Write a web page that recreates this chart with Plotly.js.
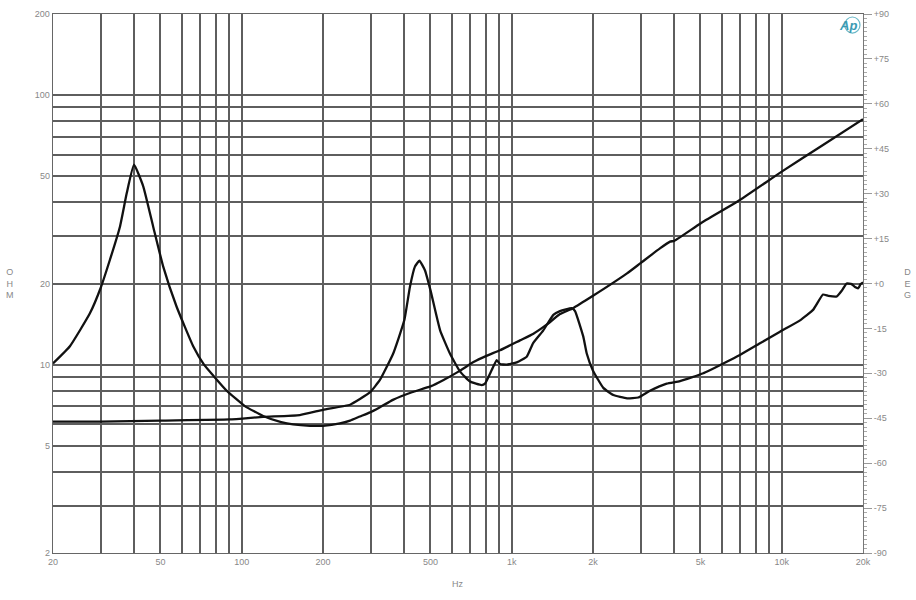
<!DOCTYPE html>
<html>
<head>
<meta charset="utf-8">
<script src="https://cdn.plot.ly/plotly-3.0.1.min.js"></script>
<style>html,body{margin:0;padding:0;background:#fff;}#chart{width:916px;height:600px;}</style>
</head>
<body>
<div id="chart"></div>
<script>
// Curve A: low-frequency resonance then steadily rising impedance (ohm)
const freqA = [20, 23.1, 27.4, 30, 32.5, 35.4, 37.5, 39.9, 43.2, 47, 51.2, 57.4, 66.1, 72.5, 78.5, 88, 103, 120, 140, 155, 179, 200, 231, 252, 274, 299, 325, 363, 427, 500, 557, 644, 719, 810, 905, 1073, 1199, 1351, 1509, 1687, 2000, 2673, 3000, 3540, 3858, 4000, 5000, 7000, 10000, 14220, 20000];
const ohmA  = [10.1, 11.7, 15.5, 19.2, 24.5, 32.5, 43.2, 55.2, 45.8, 32.5, 23.1, 16.4, 11.7, 10.0, 9.1, 8.0, 7.0, 6.45, 6.12, 6.0, 5.93, 5.93, 6.05, 6.2, 6.42, 6.65, 6.95, 7.4, 7.9, 8.3, 8.75, 9.5, 10.2, 10.8, 11.3, 12.3, 13.0, 14.1, 15.4, 16.2, 18.0, 21.8, 23.8, 27.0, 28.6, 28.8, 33.4, 40.8, 52.0, 65.3, 81.4];

// Curve B: flat start, resonance near 460 Hz, bumps, then rising to 20 ohm (ohm)
const freqB = [20, 30, 50, 90, 120, 164, 200, 252, 274, 299, 325, 364, 400, 420, 438, 455, 477, 500, 543, 591, 644, 701, 774, 796, 843, 880, 905, 958, 1044, 1136, 1199, 1309, 1426, 1509, 1668, 1716, 1841, 1896, 2000, 2184, 2378, 2673, 2944, 3252, 3750, 4200, 5124, 6076, 7000, 8310, 9854, 11690, 13090, 14220, 14880, 15980, 16680, 17400, 18160, 18680, 19210, 19600, 20000];
const ohmB  = [6.14, 6.14, 6.2, 6.26, 6.4, 6.5, 6.8, 7.1, 7.45, 7.9, 8.77, 11.0, 14.6, 19.5, 23.1, 24.3, 22.4, 18.9, 13.4, 10.97, 9.42, 8.65, 8.4, 8.5, 9.55, 10.4, 10.05, 10.0, 10.2, 10.7, 12.0, 13.4, 15.3, 15.8, 16.2, 15.8, 12.7, 11.0, 9.5, 8.2, 7.71, 7.5, 7.55, 8.0, 8.5, 8.68, 9.29, 10.1, 10.86, 12.0, 13.25, 14.6, 16.0, 18.2, 18.0, 17.9, 18.8, 20.0, 19.9, 19.4, 19.2, 19.9, 20.2];

// Axis ticks / grid
const xGrid = [20,30,40,50,60,70,80,90,100,200,300,400,500,600,700,800,900,1000,2000,3000,4000,5000,6000,7000,8000,9000,10000,20000];
const xLabels = {20:'20',50:'50',100:'100',200:'200',500:'500',1000:'1k',2000:'2k',5000:'5k',10000:'10k',20000:'20k'};
const yGrid = [2,3,4,5,6,7,8,9,10,20,30,40,50,60,70,80,90,100,200];
const yLabels = {2:'2',5:'5',10:'10',20:'20',50:'50',100:'100',200:'200'};
const degTicks = [-90,-75,-60,-45,-30,-15,0,15,30,45,60,75,90];
const degLabels = ['-90','-75','-60','-45','-30','-15','+0','+15','+30','+45','+60','+75','+90'];

const tickFont = {family: 'Liberation Sans, Arial, sans-serif', size: 9, color: '#888'};
const gridColor = '#5e5e5e';

const traces = [
  {x: freqA, y: ohmA, type: 'scatter', mode: 'lines', line: {color: '#111', width: 2.3, shape: 'spline', smoothing: 0.4}, hoverinfo: 'skip', showlegend: false},
  {x: freqB, y: ohmB, type: 'scatter', mode: 'lines', line: {color: '#111', width: 2.3, shape: 'spline', smoothing: 0.4}, hoverinfo: 'skip', showlegend: false},
  {x: freqA, y: freqA.map(() => null), yaxis: 'y2', type: 'scatter', mode: 'lines', hoverinfo: 'skip', showlegend: false}
];

const layout = {
  width: 916, height: 600,
  margin: {l: 53, r: 53, t: 14, b: 47},
  paper_bgcolor: '#fff', plot_bgcolor: '#fff',
  showlegend: false,
  xaxis: {
    type: 'log', range: [Math.log10(20), Math.log10(20000)],
    tickmode: 'array', tickvals: xGrid, ticktext: xGrid.map(v => xLabels[v] || ''),
    tickfont: tickFont, ticks: '', showgrid: true, gridcolor: gridColor, gridwidth: 2,
    showline: true, linecolor: '#666', linewidth: 1.3, mirror: true, zeroline: false,
    fixedrange: true
  },
  yaxis: {
    type: 'log', range: [Math.log10(2), Math.log10(200)],
    tickmode: 'array', tickvals: yGrid, ticktext: yGrid.map(v => yLabels[v] || ''),
    tickfont: tickFont, ticks: '', showgrid: true, gridcolor: gridColor, gridwidth: 2,
    showline: true, linecolor: '#666', linewidth: 1.3, mirror: true, zeroline: false,
    fixedrange: true
  },
  yaxis2: {
    overlaying: 'y', side: 'right', range: [-90, 90],
    tickmode: 'array', tickvals: degTicks, ticktext: degLabels,
    tickfont: tickFont, ticks: 'outside', ticklen: 8, tickcolor: '#999', tickwidth: 1,
    minor: {dtick: 1.5, ticks: 'outside', ticklen: 3, tickcolor: '#aaa', showgrid: false},
    showgrid: false, zeroline: false, showline: true, linecolor: '#777', linewidth: 1,
    fixedrange: true
  },
  shapes: [
    {type: 'circle', xref: 'paper', yref: 'paper', x0: 0.9775, x1: 0.9963, y0: 0.9647, y1: 0.9944,
     line: {color: '#6bb8c8', width: 1.2}}
  ],
  annotations: [
    {text: 'O<br>H<br>M', xref: 'paper', yref: 'paper', x: -0.053, y: 0.5, xanchor: 'center', yanchor: 'middle', showarrow: false,
     font: {family: 'Liberation Sans, Arial, sans-serif', size: 9, color: '#888'}},
    {text: 'D<br>E<br>G', xref: 'paper', yref: 'paper', x: 1.055, y: 0.5, xanchor: 'center', yanchor: 'middle', showarrow: false,
     font: {family: 'Liberation Sans, Arial, sans-serif', size: 9, color: '#888'}},
    {text: 'Hz', xref: 'paper', yref: 'paper', x: 0.5, y: -0.045, xanchor: 'center', yanchor: 'top', showarrow: false,
     font: {family: 'Liberation Sans, Arial, sans-serif', size: 9, color: '#888'}},
    {text: '<b><i>Ap</i></b>', xref: 'paper', yref: 'paper', x: 0.981, y: 0.979, xanchor: 'center', yanchor: 'middle', showarrow: false,
     font: {family: 'Liberation Sans, Arial, sans-serif', size: 13, color: '#3a9bb3'}}
  ]
};

Plotly.newPlot('chart', traces, layout, {staticPlot: true, displayModeBar: false});
</script>
</body>
</html>
